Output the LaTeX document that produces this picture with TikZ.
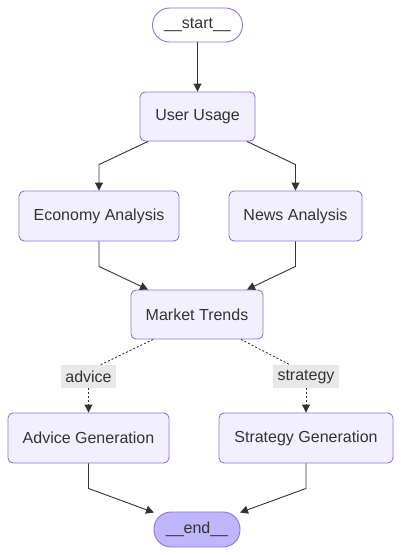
\documentclass[tikz,border=0pt]{standalone}
\usepackage{fontspec}
\setmainfont{Liberation Sans}
\usetikzlibrary{arrows.meta,calc}
\definecolor{nodefill}{HTML}{F2F0FF}
\definecolor{nodedraw}{HTML}{9370DB}
\definecolor{endfill}{HTML}{BFB6FC}
\definecolor{txt}{HTML}{333333}
\definecolor{lblfill}{HTML}{E8E8E8}
\tikzset{
  box/.style={draw=nodedraw, fill=nodefill, line width=0.9pt, rounded corners=5pt,
    text=txt, font=\fontsize{16}{19}\selectfont, inner sep=0pt, align=center},
  pill/.style={draw=nodedraw, line width=0.9pt, rounded corners=17pt,
    text=txt, font=\fontsize{16}{19}\selectfont, inner sep=0pt, align=center,
    minimum height=34pt, minimum width=90pt},
  lbl/.style={fill=lblfill, text=txt, font=\fontsize{16}{19}\selectfont,
    inner sep=0pt, minimum height=23pt, inner xsep=4.5pt},
  edge/.style={draw=txt, line width=0.9pt, -{Triangle[length=8pt,width=8pt]}},
  plain/.style={draw=txt, line width=0.9pt},
  dot/.style={draw=txt, line width=0.9pt, dash pattern=on 2pt off 2pt},
  dotarrow/.style={dot, -{Triangle[length=8pt,width=8pt]}},
}
\begin{document}
\begin{tikzpicture}[x=1pt,y=-1pt]
\useasboundingbox (0,0) rectangle (401,555);
\node[pill, fill=white] (start) at (197.5,25) {\_\_start\_\_};
\node[box, minimum width=115pt, minimum height=49pt] (uu) at (197.5,116.5) {User Usage};
\node[box, minimum width=160pt, minimum height=50pt] (ea) at (99,216) {Economy Analysis};
\node[box, minimum width=133pt, minimum height=50pt] (na) at (295.5,216) {News Analysis};
\node[box, minimum width=132pt, minimum height=49pt] (mt) at (197,314.5) {Market Trends};
\node[lbl] (la) at (88.5,376.5) {advice};
\node[lbl] (ls) at (306,376.5) {strategy};
\node[box, minimum width=161pt, minimum height=50pt] (ag) at (88.5,438) {Advice Generation};
\node[box, minimum width=174pt, minimum height=50pt] (sg) at (306,438) {Strategy Generation};
\node[pill, fill=endfill, minimum width=86pt, minimum height=35pt] (end) at (197,529.5) {\_\_end\_\_};

\draw[edge] (start) -- (uu);
\draw[edge] ([xshift=-49.5pt]uu.south) -- ([yshift=26pt]ea.north) -- (ea.north);
\draw[edge] ([xshift=49.5pt]uu.south) -- ([yshift=26pt]na.north) -- (na.north);
\draw[edge] (ea.south) -- ([yshift=-25pt]ea.south) -- ([xshift=-49pt]mt.north);
\draw[edge] (na.south) -- ([yshift=-25pt]na.south) -- ([xshift=50pt]mt.north);
\draw[dot] ([xshift=-44pt]mt.south) -- ([xshift=12pt]la.north);
\draw[dot] ([xshift=44pt]mt.south) -- ([xshift=-16pt]ls.north);
\draw[dotarrow] (la.south) -- (ag.north);
\draw[dotarrow] (ls.south) -- (sg.north);
\draw[edge] (ag.south) -- ([yshift=-25pt]ag.south) -- ([xshift=-43pt,yshift=-1pt]end.north);
\draw[edge] (sg.south) -- ([yshift=-25pt]sg.south) -- ([xshift=43pt,yshift=-1pt]end.north);
\end{tikzpicture}
\end{document}
